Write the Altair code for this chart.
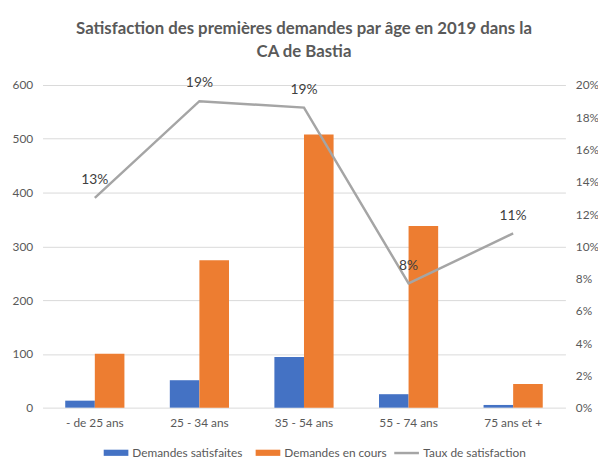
import altair as alt
import pandas as pd

categories = ["- de 25 ans", "25 - 34 ans", "35 - 54 ans", "55 - 74 ans", "75 ans et +"]
satisfaites = [13, 51, 94, 25, 5]
en_cours = [100, 274, 508, 338, 44]
taux = [0.13, 0.19, 0.186, 0.077, 0.108]
series = ["Demandes satisfaites", "Demandes en cours"]
line_name = "Taux de satisfaction"
left_ticks = [0, 100, 200, 300, 400, 500, 600]
right_ticks = [0, 0.02, 0.04, 0.06, 0.08, 0.10, 0.12, 0.14, 0.16, 0.18, 0.20]

BLUE, ORANGE, GRAY = "#4472C4", "#ED7D31", "#A5A5A5"
TXT = "#595959"
FONT = "Lato"

bars_df = pd.DataFrame({
    "cat": categories * 2,
    "serie": [series[0]] * len(categories) + [series[1]] * len(categories),
    "val": satisfaites + en_cours,
})
line_df = pd.DataFrame({"cat": categories, "taux": taux, "serie": line_name})

x_enc = alt.X(
    "cat:N", sort=categories,
    scale=alt.Scale(paddingInner=0.434, paddingOuter=0.217),
    axis=alt.Axis(title=None, labelAngle=0, domain=False, ticks=False, labelPadding=10,
                  labelFontSize=12, labelColor=TXT, labelFont=FONT),
)

right_axis = alt.Axis(title=None, orient="right", format=".0%", values=right_ticks,
                      grid=False, domain=False, ticks=False, labelPadding=10,
                      labelOverlap=False, labelFontSize=12, labelColor=TXT, labelFont=FONT)
y_right = alt.Y("taux:Q", scale=alt.Scale(domain=[0, 0.2], nice=False), axis=right_axis)

bars = alt.Chart(bars_df).mark_bar().encode(
    x=x_enc,
    xOffset=alt.XOffset("serie:N", sort=series),
    y=alt.Y("val:Q", scale=alt.Scale(domain=[0, 600], nice=False),
            axis=alt.Axis(title=None, values=left_ticks, domain=False, ticks=False,
                          labelPadding=10, gridColor="#D9D9D9", labelFontSize=12,
                          labelColor=TXT, labelFont=FONT)),
    color=alt.Color("serie:N", sort=series,
                    scale=alt.Scale(domain=series, range=[BLUE, ORANGE]),
                    legend=alt.Legend(orient="none", legendX=61, legendY=359,
                                      direction="horizontal", title=None,
                                      symbolType="M-1,-0.25H1V0.25H-1Z", symbolSize=625,
                                      labelFontSize=12, labelColor=TXT, labelFont=FONT,
                                      columnPadding=12, labelOffset=3)),
)

line = alt.Chart(line_df).mark_line(strokeWidth=2.5).encode(
    x=alt.X("cat:N", sort=categories),
    y=y_right,
    stroke=alt.Stroke("serie:N", scale=alt.Scale(domain=[line_name], range=[GRAY]),
                      legend=alt.Legend(orient="none", legendX=355, legendY=359,
                                        title=None, symbolType="stroke", symbolSize=625,
                                        symbolStrokeWidth=2.5, labelFontSize=12,
                                        labelColor=TXT, labelFont=FONT, labelOffset=3)),
)

labels = alt.Chart(line_df).mark_text(dy=-18, fontSize=14, color="#404040", font=FONT).encode(
    x=alt.X("cat:N", sort=categories),
    y=y_right,
    text=alt.Text("taux:Q", format=".0%"),
)

chart = alt.layer(bars, alt.layer(line, labels)).resolve_scale(
    y="independent", color="independent"
).properties(
    width=530, height=327,
    title=alt.Title(["Satisfaction des premières demandes par âge en 2019 dans la", "CA de Bastia"],
                    fontSize=17, font=FONT, fontWeight="bold", color=TXT, lineHeight=23,
                    anchor="middle", offset=16),
    autosize=alt.AutoSizeParams(type="none"),
    padding={"left": 35, "top": 75, "right": 33, "bottom": 50},
).configure_view(stroke=None)

chart.save("out.html", embed_options={"renderer": "svg", "actions": False})
